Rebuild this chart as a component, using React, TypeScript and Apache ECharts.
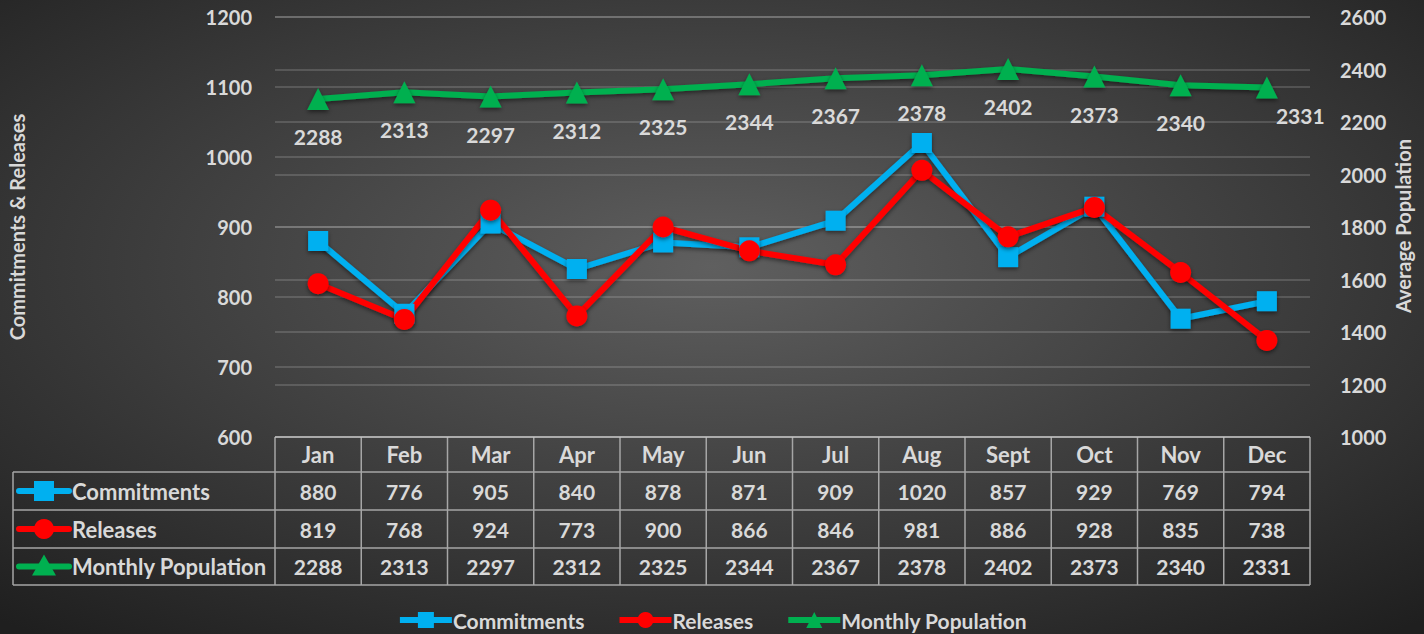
import React, { useEffect, useRef } from "react";
import * as echarts from "echarts";

const months = ["Jan", "Feb", "Mar", "Apr", "May", "Jun", "Jul", "Aug", "Sept", "Oct", "Nov", "Dec"];
const commitments = [880, 776, 905, 840, 878, 871, 909, 1020, 857, 929, 769, 794];
const releases = [819, 768, 924, 773, 900, 866, 846, 981, 886, 928, 835, 738];
const population = [2288, 2313, 2297, 2312, 2325, 2344, 2367, 2378, 2402, 2373, 2340, 2331];
const seriesNames = ["Commitments", "Releases", "Monthly Population"];
const seriesColors = ["#00b0f0", "#ff0000", "#00b050"];

const W = 1424;
const H = 634;
const GL = 275;
const GR = 1310;
const GT = 17;
const GB = 437;
const FONT = "Lato";
const TXT = "#d9d9d9";
const TABLE_LINE = "#a6a6a6";

export default function App() {
  const ref = useRef<HTMLDivElement>(null);
  useEffect(() => {
    if (!ref.current) return;
    const chart = echarts.init(ref.current, null, { renderer: "svg" });
    const colW = (GR - GL) / 12;
    const rowY = [437, 472, 510, 548, 585];
    const g: any[] = [];
    g.push({ type: "line", shape: { x1: GL, y1: rowY[0], x2: GR, y2: rowY[0] }, style: { stroke: TABLE_LINE, lineWidth: 1.5 } });
    for (let i = 1; i < rowY.length; i++) {
      g.push({ type: "line", shape: { x1: 13, y1: rowY[i], x2: GR, y2: rowY[i] }, style: { stroke: TABLE_LINE, lineWidth: 1.5 } });
    }
    g.push({ type: "line", shape: { x1: 13, y1: rowY[1], x2: 13, y2: rowY[4] }, style: { stroke: TABLE_LINE, lineWidth: 1.5 } });
    for (let i = 0; i <= 12; i++) {
      const x = GL + i * colW;
      g.push({ type: "line", shape: { x1: x, y1: rowY[0], x2: x, y2: rowY[4] }, style: { stroke: TABLE_LINE, lineWidth: 1.5 } });
    }
    const cellText = (x: number, y: number, t: string, size: number, align = "center") => ({
      type: "text",
      x,
      y,
      style: { text: t, fill: TXT, font: `bold ${size}px ${FONT}`, align, verticalAlign: "middle" },
    });
    months.forEach((m, i) => g.push(cellText(GL + (i + 0.5) * colW, (rowY[0] + rowY[1]) / 2, m, 22)));
    const rows = [commitments, releases, population];
    rows.forEach((arr, r) => {
      const cy = (rowY[r + 1] + rowY[r + 2]) / 2;
      arr.forEach((v, i) => g.push(cellText(GL + (i + 0.5) * colW, cy, String(v), 21)));
      g.push(cellText(72, cy, seriesNames[r], 22, "left"));
      const c = seriesColors[r];
      g.push({ type: "line", shape: { x1: 19, y1: cy, x2: 69, y2: cy }, style: { stroke: c, lineWidth: 6, lineCap: "round" } });
      if (r === 0) g.push({ type: "rect", shape: { x: 34, y: cy - 10, width: 20, height: 20 }, style: { fill: c } });
      if (r === 1) g.push({ type: "circle", shape: { cx: 44, cy, r: 10 }, style: { fill: c } });
      if (r === 2) g.push({ type: "polygon", shape: { points: [[44, cy - 12], [32, cy + 9], [56, cy + 9]] }, style: { fill: c } });
    });
    g.push({
      type: "text", x: 17, y: 227, rotation: Math.PI / 2,
      style: { text: "Commitments & Releases", fill: TXT, font: `bold 20px ${FONT}`, align: "center", verticalAlign: "middle" },
    });
    g.push({
      type: "text", x: 1403, y: 226, rotation: Math.PI / 2,
      style: { text: "Average Population", fill: TXT, font: `bold 20px ${FONT}`, align: "center", verticalAlign: "middle" },
    });

    const lineBase = (name: string, color: string, data: number[], symbol: string, size: number, yIdx: number) => ({
      name,
      type: "line",
      yAxisIndex: yIdx,
      data,
      symbol,
      symbolSize: size,
      itemStyle: { color, shadowColor: "rgba(0,0,0,0.5)", shadowBlur: 4, shadowOffsetY: 2 },
      lineStyle: { color, width: 6, shadowColor: "rgba(0,0,0,0.5)", shadowBlur: 4, shadowOffsetY: 2 },
      emphasis: { disabled: true },
    });

    const popSeries: any = lineBase(seriesNames[2], seriesColors[2], population, "triangle", 22, 1);
    popSeries.data = population.map((v, i) =>
      i === 11
        ? { value: v, label: { position: "right", offset: [-2, 28], distance: 0 } }
        : v
    );
    popSeries.label = {
      show: true,
      position: "bottom",
      distance: 16,
      color: TXT,
      fontFamily: FONT,
      fontWeight: "bold",
      fontSize: 21,
    };

    const axisLabel = { color: TXT, fontFamily: FONT, fontWeight: "bold", fontSize: 20, formatter: (v: number) => String(v) };

    chart.setOption({
      animation: false,
      backgroundColor: new echarts.graphic.RadialGradient(0.5, 0.42, 0.75, [
        { offset: 0, color: "#5f5f5f" },
        { offset: 1, color: "#1f1f1f" },
      ]),
      grid: { left: GL, right: W - GR, top: GT, bottom: H - GB, containLabel: false },
      xAxis: {
        type: "category",
        data: months,
        axisLine: { show: false },
        axisTick: { show: false },
        axisLabel: { show: false },
      },
      yAxis: [
        {
          type: "value",
          min: 600,
          max: 1200,
          interval: 100,
          axisLine: { show: false },
          axisTick: { show: false },
          axisLabel: { ...axisLabel, margin: 23 },
          splitLine: { lineStyle: { color: "rgba(255,255,255,0.2)", width: 1.5 } },
        },
        {
          type: "value",
          min: 1000,
          max: 2600,
          interval: 200,
          axisLine: { show: false },
          axisTick: { show: false },
          axisLabel: { ...axisLabel, margin: 30 },
          splitLine: { show: true, lineStyle: { color: "rgba(255,255,255,0.2)", width: 1.5 } },
        },
      ],
      legend: {
        top: 609,
        left: "center",
        padding: 0,
        itemWidth: 52,
        itemHeight: 20,
        itemGap: 32,
        lineStyle: { width: 6 },
        textStyle: { color: TXT, fontFamily: FONT, fontWeight: "bold", fontSize: 21, lineHeight: 22, padding: [0, 0, 0, -4] },
        data: seriesNames,
      },
      series: [
        lineBase(seriesNames[0], seriesColors[0], commitments, "rect", 20, 0),
        lineBase(seriesNames[1], seriesColors[1], releases, "circle", 21, 0),
        popSeries,
      ],
      graphic: g,
    });
    return () => chart.dispose();
  }, []);
  return <div ref={ref} style={{ position: "absolute", left: 0, top: 0, width: W, height: H }} />;
}
